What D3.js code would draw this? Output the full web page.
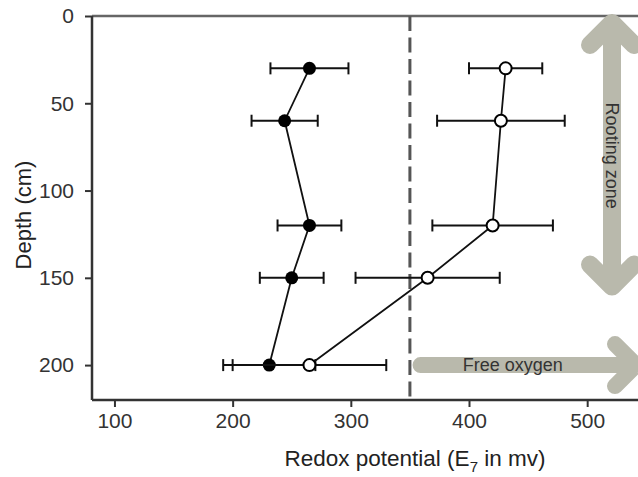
<!DOCTYPE html>
<html><head><meta charset="utf-8">
<script src="https://cdn.jsdelivr.net/npm/d3@7"></script>
<style>body{margin:0;background:#fff}svg{display:block}text{font-family:"Liberation Sans",Arial,sans-serif}</style>
</head><body><svg id="c" width="638" height="477"></svg>
<script>
const depths = [30, 60, 120, 150, 200];
const filledMean = [265, 244, 265, 250, 231];
const filledErr = [33, 28, 27, 27, 39];
const openMean = [431, 427, 420, 365, 265];
const openErr = [31, 54, 51, 61, 65];
const xTicks = [100, 200, 300, 400, 500];
const yTicks = [0, 50, 100, 150, 200];
const threshold = 350;

const svg = d3.select('#c');
const x = d3.scaleLinear().domain([81, 543]).range([92, 638]);
const y = d3.scaleLinear().domain([0, 220]).range([16, 400]);
const arrowCol = '#b9b9ac';

// top border
svg.append('line').attr('x1', x(81)).attr('x2', 638).attr('y1', y(0)).attr('y2', y(0))
  .attr('stroke', '#666').attr('stroke-width', 2.5);

// arrows
const rx = x(521);
svg.append('path').attr('d', `M${rx},${y(4)}L${rx},${y(155)}M${rx-22},${y(4)+22}L${rx},${y(4)}L${rx+22},${y(4)+22}M${rx-22},${y(155)-22}L${rx},${y(155)}L${rx+22},${y(155)-22}`)
  .attr('fill','none').attr('stroke',arrowCol).attr('stroke-width',18).attr('stroke-linecap','round').attr('stroke-linejoin','round');
svg.append('text').attr('transform', `translate(${rx},${y(80)}) rotate(90)`).attr('text-anchor','middle').attr('dy','0.35em')
  .attr('font-size',18).attr('fill','#333').text('Rooting zone');
const fy = y(200), fx0 = x(359), fx1 = 636;
svg.append('path').attr('d', `M${fx0},${fy}L${fx1},${fy}M${fx1-21},${fy-21}L${fx1},${fy}L${fx1-21},${fy+21}`)
  .attr('fill','none').attr('stroke',arrowCol).attr('stroke-width',16).attr('stroke-linecap','round').attr('stroke-linejoin','round');
svg.append('text').attr('x', x(437)).attr('y', fy).attr('dy','0.35em').attr('text-anchor','middle')
  .attr('font-size',18).attr('fill','#333').text('Free oxygen');

// dashed threshold
svg.append('line').attr('x1', x(threshold)).attr('x2', x(threshold)).attr('y1', y(0)).attr('y2', y(220))
  .attr('stroke','#555').attr('stroke-width',3).attr('stroke-dasharray','15,6.5');

// axes
const yAxis = svg.append('g').attr('transform', `translate(${x(81)},0)`)
  .call(d3.axisLeft(y).tickValues(yTicks).tickSize(7).tickPadding(11));
const xAxis = svg.append('g').attr('transform', `translate(0,${y(220)})`)
  .call(d3.axisBottom(x).tickValues(xTicks).tickSize(7).tickPadding(6));
[yAxis, xAxis].forEach(g => {
  g.select('.domain').attr('stroke','#333').attr('stroke-width',2.5);
  g.selectAll('.tick line').attr('stroke','#333').attr('stroke-width',2);
  g.selectAll('.tick text').attr('font-size',21).attr('fill','#333').attr('font-family','"Liberation Sans",Arial,sans-serif');
});
xAxis.select('.domain').attr('d', `M${x(81)},0H638`);
yAxis.select('.domain').attr('d', `M0,${y(0)}V${y(220)}`);

// axis titles
const xt = svg.append('text').attr('x', 415).attr('y', 466).attr('text-anchor','middle').attr('font-size',22.5).attr('fill','#222');
xt.append('tspan').text('Redox potential (E');
xt.append('tspan').attr('font-size',15).attr('dy',6).text('7');
xt.append('tspan').attr('dy',-6).text(' in mv)');
svg.append('text').attr('transform','translate(31,215) rotate(-90)').attr('text-anchor','middle')
  .attr('font-size',22).attr('fill','#222').text('Depth (cm)');

function series(mean, err) {
  const pts = depths.map((d, i) => ({d, m: mean[i], e: err[i]}));
  const g = svg.append('g');
  pts.forEach(p => {
    g.append('line').attr('x1', x(p.m - p.e)).attr('x2', x(p.m + p.e)).attr('y1', y(p.d)).attr('y2', y(p.d)).attr('stroke','#111').attr('stroke-width',2);
    [p.m - p.e, p.m + p.e].forEach(v => g.append('line').attr('x1', x(v)).attr('x2', x(v)).attr('y1', y(p.d) - 6).attr('y2', y(p.d) + 6).attr('stroke','#111').attr('stroke-width',2));
  });
  g.append('path').datum(pts).attr('fill','none').attr('stroke','#111').attr('stroke-width',1.8)
    .attr('d', d3.line().x(p => x(p.m)).y(p => y(p.d)));
  return {g, pts};
}
const s1 = series(filledMean, filledErr);
const s2 = series(openMean, openErr);
s1.g.selectAll('circle.m').data(s1.pts).join('circle').attr('cx', p => x(p.m)).attr('cy', p => y(p.d)).attr('r', 6.5).attr('fill','#000');
s2.g.selectAll('circle.m').data(s2.pts).join('circle').attr('cx', p => x(p.m)).attr('cy', p => y(p.d)).attr('r', 6).attr('fill','#fff').attr('stroke','#000').attr('stroke-width',2);
</script></body></html>
